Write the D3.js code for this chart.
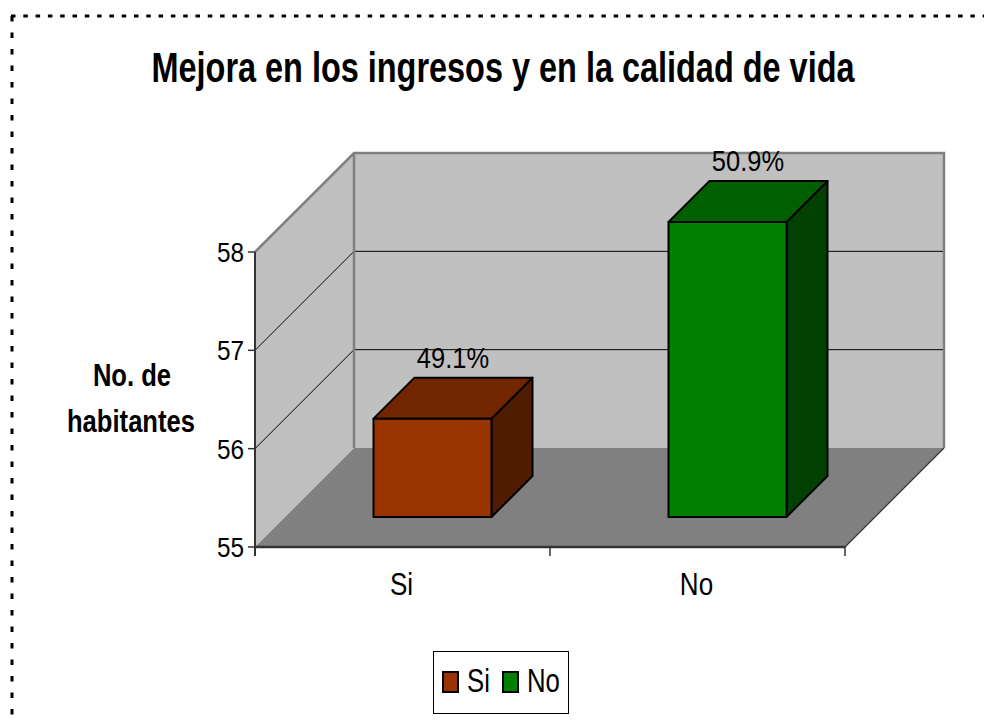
<!DOCTYPE html>
<html><head><meta charset="utf-8">
<script src="https://cdn.jsdelivr.net/npm/d3@7"></script>
<style>body{margin:0;background:#fff}svg{display:block}text{font-family:"Liberation Sans",Arial,sans-serif}</style>
</head><body>
<svg id="c" width="984" height="722"></svg>
<script>
const categories = ["Si", "No"];
const values = [56, 58];
const pctLabels = ["49.1%", "50.9%"];
const yTicks = [55, 56, 57, 58];
const gridTicks = [56, 57];
const legendLabels = ["Si", "No"];

const frontColors = ["#993300", "#008000"];
const topColors = ["#722600", "#006000"];
const sideColors = ["#4f1c00", "#004000"];

const svg = d3.select("#c");
const y = d3.scaleLinear().domain([55, 58]).range([547, 252]);
const x = d3.scaleBand().domain(categories).range([255, 845]);
const DEPTH = 99, BAR_D0 = 30, BAR_D1 = 71;
const p = (px, py, d) => [px + d, py - d];
const poly = pts => "M" + pts.map(q => q.join(",")).join("L") + "Z";
const y0 = y.domain()[0], y1 = y.domain()[1];
const xl = x.range()[0], xr = x.range()[1];

function fitText(sel, f) {
  sel.each(function () {
    const w = this.getComputedTextLength();
    d3.select(this).attr("textLength", w * f).attr("lengthAdjust", "spacingAndGlyphs");
  });
}

// dashed frame
svg.append("line").attr("x1", 11).attr("x2", 984).attr("y1", 16).attr("y2", 16)
  .attr("stroke", "#000").attr("stroke-width", 3).attr("stroke-dasharray", "4.5 7.8");
svg.append("line").attr("x1", 12).attr("x2", 12).attr("y1", 16).attr("y2", 722)
  .attr("stroke", "#000").attr("stroke-width", 3).attr("stroke-dasharray", "5.5 11");

// title
svg.append("text").attr("x", 503).attr("y", 82).attr("text-anchor", "middle")
  .attr("font-size", 42).attr("font-weight", "bold").attr("fill", "#000")
  .attr("textLength", 703).attr("lengthAdjust", "spacingAndGlyphs")
  .text("Mejora en los ingresos y en la calidad de vida");

// walls
svg.append("path").attr("d", poly([p(xl, y(y0), 0), p(xl, y(y1), 0), p(xl, y(y1), DEPTH), p(xl, y(y0), DEPTH)]))
  .attr("fill", "#c0c0c0");
svg.append("path").attr("d", poly([p(xl, y(y1), DEPTH), p(xr, y(y1), DEPTH), p(xr, y(y0), DEPTH), p(xl, y(y0), DEPTH)]))
  .attr("fill", "#c0c0c0");
svg.append("path").attr("d", poly([p(xl, y(y0), 0), p(xr, y(y0), 0), p(xr, y(y0), DEPTH), p(xl, y(y0), DEPTH)]))
  .attr("fill", "#808080");

// gridlines
svg.selectAll(".grid").data(gridTicks).enter().append("path")
  .attr("d", t => "M" + [p(xl, y(t), 0), p(xl, y(t), DEPTH), p(xr, y(t), DEPTH)].map(q => q.join(",")).join("L"))
  .attr("fill", "none").attr("stroke", "#000").attr("stroke-width", 1);

// wall edges
svg.append("path")
  .attr("d", "M" + [p(xl, y(y1), 0), p(xl, y(y1), DEPTH), p(xr, y(y1), DEPTH), p(xr, y(y0), DEPTH)].map(q => q.join(",")).join("L"))
  .attr("fill", "none").attr("stroke", "#808080").attr("stroke-width", 2.5);
svg.append("path")
  .attr("d", "M" + [p(xl, y(y1), DEPTH), p(xl, y(y0), DEPTH)].map(q => q.join(",")).join("L"))
  .attr("fill", "none").attr("stroke", "#808080").attr("stroke-width", 2.5);

// floor edges
svg.append("path")
  .attr("d", "M" + [p(xr, y(y0), 0), p(xr, y(y0), DEPTH)].map(q => q.join(",")).join("L"))
  .attr("fill", "none").attr("stroke", "#333").attr("stroke-width", 1.2);
svg.append("line").attr("x1", xl).attr("x2", xr).attr("y1", y(y0)).attr("y2", y(y0))
  .attr("stroke", "#333").attr("stroke-width", 2.5);

// y axis
svg.append("line").attr("x1", xl).attr("x2", xl).attr("y1", y(y1)).attr("y2", y(y0) + 9)
  .attr("stroke", "#333").attr("stroke-width", 2);
svg.selectAll(".yt").data(yTicks).enter().append("line")
  .attr("x1", xl - 7).attr("x2", xl).attr("y1", d => y(d)).attr("y2", d => y(d))
  .attr("stroke", "#333").attr("stroke-width", 1.5);
svg.selectAll(".ytl").data(yTicks).enter().append("text")
  .attr("x", xl - 11).attr("y", d => y(d) + 10).attr("text-anchor", "end")
  .attr("font-size", 28).attr("fill", "#000").text(d => d)
  .call(fitText, 0.87);

// category ticks
const catTicks = categories.map(c => x(c)).concat([xr]);
svg.selectAll(".ct").data(catTicks).enter().append("line")
  .attr("x1", d => d).attr("x2", d => d).attr("y1", y(y0)).attr("y2", y(y0) + 9)
  .attr("stroke", "#333").attr("stroke-width", 1.5);
svg.selectAll(".ctl").data(categories).enter().append("text")
  .attr("x", d => x(d) + x.bandwidth() / 2 - 1).attr("y", 595).attr("text-anchor", "middle")
  .attr("font-size", 31).attr("fill", "#000").text(d => d)
  .call(fitText, 0.84);

// axis title
const at = svg.append("text").attr("text-anchor", "middle").attr("font-size", 32)
  .attr("font-weight", "bold").attr("fill", "#000");
at.append("tspan").attr("x", 132).attr("y", 386).text("No. de");
at.append("tspan").attr("x", 131).attr("y", 432).text("habitantes");
at.selectAll("tspan").each(function () {
  const w = this.getComputedTextLength();
  d3.select(this).attr("textLength", w * 0.8).attr("lengthAdjust", "spacingAndGlyphs");
});

// bars
const bw = x.bandwidth() * 0.4;
const bars = svg.selectAll(".bar").data(categories).enter().append("g");
bars.each(function (c, i) {
  const g = d3.select(this);
  const bx0 = x(c) + (x.bandwidth() - bw) / 2, bx1 = bx0 + bw;
  const v = values[i];
  g.append("path").attr("d", poly([p(bx1, y(v), BAR_D0), p(bx1, y(v), BAR_D1), p(bx1, y(y0), BAR_D1), p(bx1, y(y0), BAR_D0)]))
    .attr("fill", sideColors[i]).attr("stroke", "#000").attr("stroke-width", 2).attr("stroke-linejoin", "round");
  g.append("path").attr("d", poly([p(bx0, y(v), BAR_D0), p(bx1, y(v), BAR_D0), p(bx1, y(v), BAR_D1), p(bx0, y(v), BAR_D1)]))
    .attr("fill", topColors[i]).attr("stroke", "#000").attr("stroke-width", 2).attr("stroke-linejoin", "round");
  g.append("path").attr("d", poly([p(bx0, y(v), BAR_D0), p(bx1, y(v), BAR_D0), p(bx1, y(y0), BAR_D0), p(bx0, y(y0), BAR_D0)]))
    .attr("fill", frontColors[i]).attr("stroke", "#000").attr("stroke-width", 2).attr("stroke-linejoin", "round");
  const lp = p((bx0 + bx1) / 2, y(v), (BAR_D0 + BAR_D1) / 2);
  g.append("text").attr("x", lp[0]).attr("y", y(v) - BAR_D1 - 10).attr("text-anchor", "middle")
    .attr("font-size", 30).attr("fill", "#000").text(pctLabels[i])
    .call(fitText, 0.85);
});

// legend
const lg = svg.append("g");
lg.append("rect").attr("x", 433.5).attr("y", 651.5).attr("width", 135).attr("height", 62)
  .attr("fill", "#fff").attr("stroke", "#000").attr("stroke-width", 1);
const lx = [443, 503];
legendLabels.forEach((l, i) => {
  lg.append("rect").attr("x", lx[i]).attr("y", 672).attr("width", 15).attr("height", 20)
    .attr("fill", frontColors[i]).attr("stroke", "#000").attr("stroke-width", 2);
  lg.append("text").attr("x", lx[i] + 24).attr("y", 692).attr("font-size", 33).attr("fill", "#000")
    .text(l).call(fitText, 0.78);
});
</script>
</body></html>
